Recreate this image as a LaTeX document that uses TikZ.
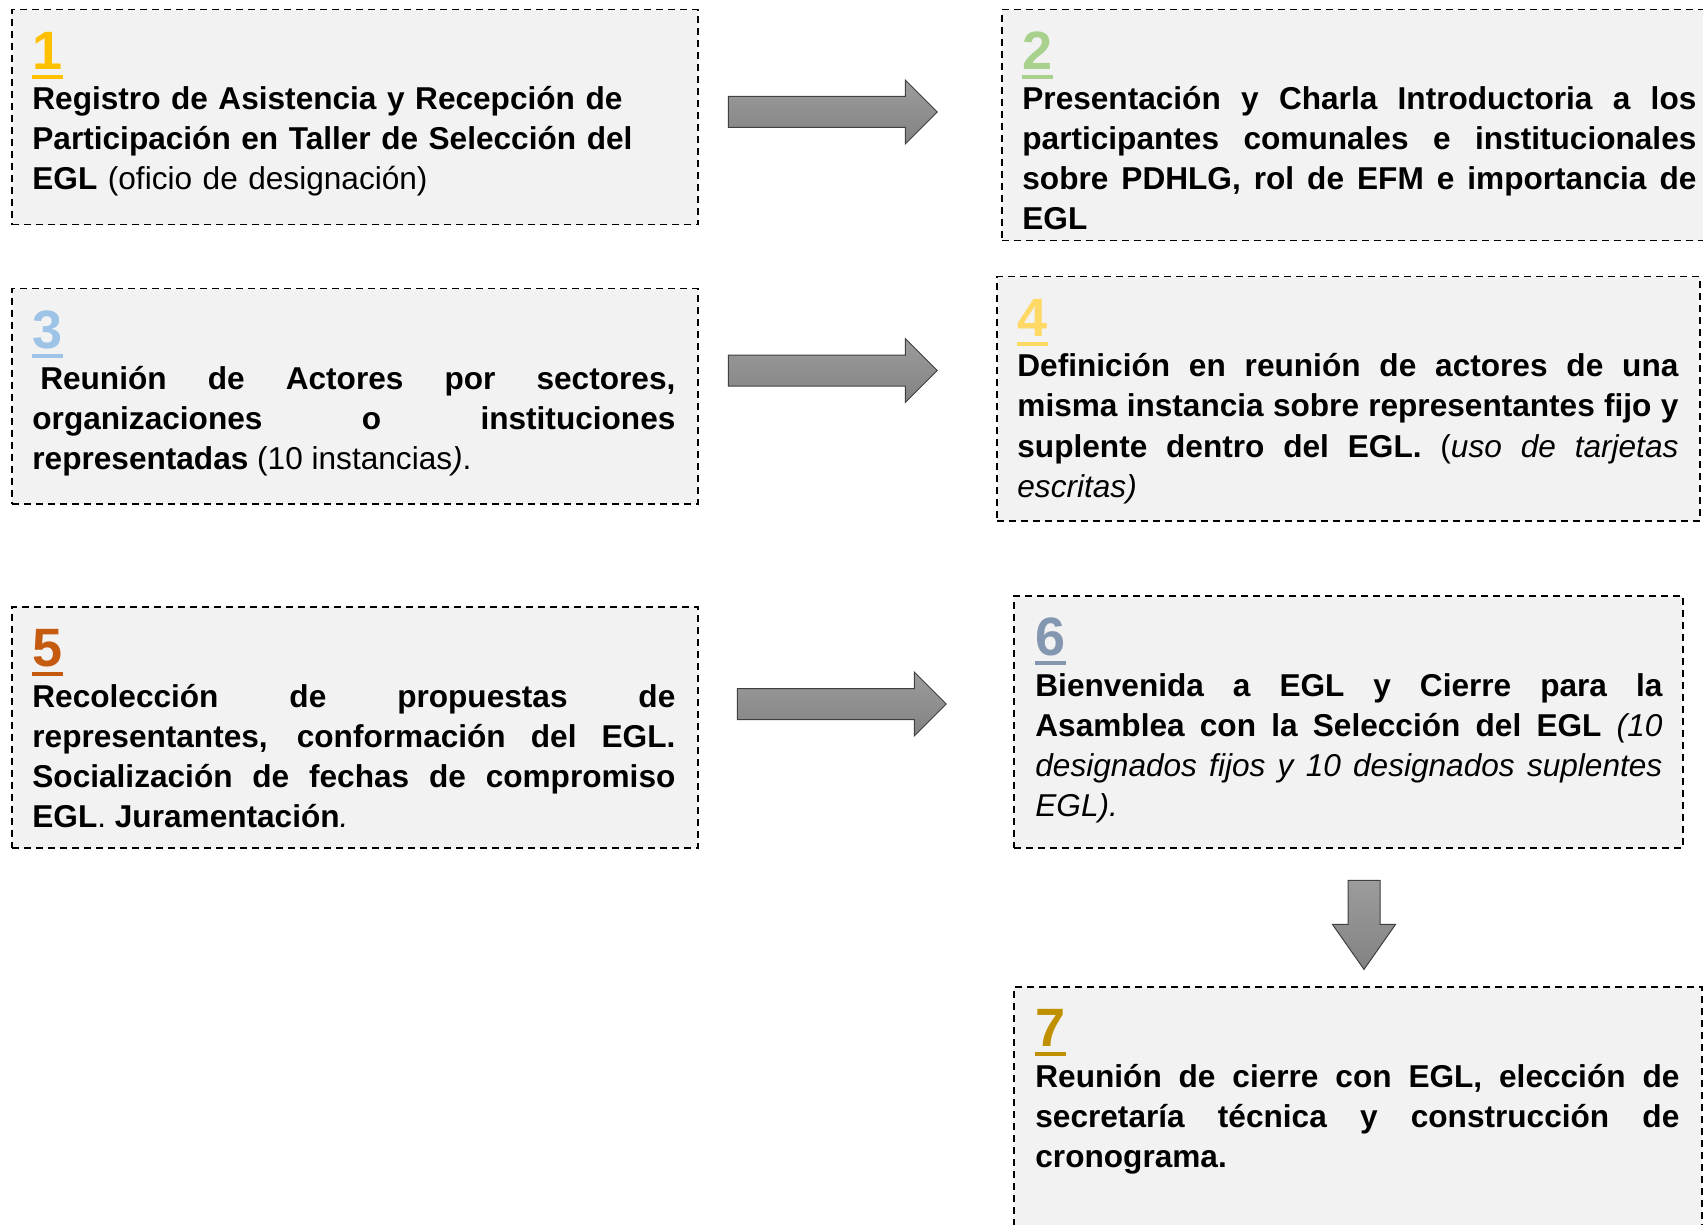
\documentclass[tikz,border=0pt]{standalone}
\usepackage{fontspec}
\setmainfont{Liberation Sans}
\usepackage{xcolor}
\usetikzlibrary{shapes.arrows,positioning,calc}

\definecolor{boxfill}{HTML}{F2F2F2}
\definecolor{numA}{HTML}{FFC000}
\definecolor{numB}{HTML}{A9D18E}
\definecolor{numC}{HTML}{9DC3E6}
\definecolor{numD}{HTML}{FFD966}
\definecolor{numE}{HTML}{C55A11}
\definecolor{numF}{HTML}{8497B0}
\definecolor{numG}{HTML}{BF9000}
\definecolor{arrtop}{HTML}{9C9C9C}
\definecolor{arrbot}{HTML}{828282}

\begin{document}
\begin{tikzpicture}[
  x=0.5pt, y=-0.5pt,
  box/.style={draw, dash pattern=on 3.5pt off 2.5pt, line width=0.75pt,
              fill=boxfill, anchor=north west, inner sep=0pt},
  num/.style={anchor=base west, inner sep=0pt, text=#1,
              font=\fontsize{27}{27}\selectfont\bfseries},
  txt/.style={anchor=base west, inner sep=0pt, align=justify,
              font={\fontsize{15.8}{20}\selectfont\tolerance=10000 \hyphenpenalty=10000 }},
  harrow/.style={single arrow, draw=black!75, line width=0.5pt,
                 top color=arrtop, bottom color=arrbot, inner sep=7.5pt,
                 single arrow head extend=8.25pt, minimum height=104.5pt},
  varrow/.style={harrow, shape border rotate=270, inner sep=7.75pt,
                 single arrow head extend=7.75pt, single arrow tip angle=70,
                 minimum height=44.5pt}
]
  \path[use as bounding box, fill=white] (0,0) rectangle (1703,1225);
  \clip (0,0) rectangle (1703,1225);

  \node[box, minimum width=343pt, minimum height=107.5pt] (b1) at (11,9) {};
  \node[box, minimum width=400pt, minimum height=115.5pt] (b2) at (1001,9) {};
  \node[box, minimum width=343pt, minimum height=107.5pt] (b3) at (11,288) {};
  \node[box, minimum width=351.5pt, minimum height=122pt] (b4) at (996,276) {};
  \node[box, minimum width=343pt, minimum height=120.5pt] (b5) at (11,606) {};
  \node[box, minimum width=334.5pt, minimum height=126pt] (b6) at (1013,595) {};
  \node[box, minimum width=344pt, minimum height=150pt] (b7) at (1013,986) {};

  \node[num=numA] (n1) at ([shift={(21,60.5)}]b1.north west) {1};
  \node[num=numB] (n2) at ([shift={(21,60.5)}]b2.north west) {2};
  \node[num=numC] (n3) at ([shift={(21,60.5)}]b3.north west) {3};
  \node[num=numD] (n4) at ([shift={(21,60.5)}]b4.north west) {4};
  \node[num=numE] (n5) at ([shift={(21,60.5)}]b5.north west) {5};
  \node[num=numF] (n6) at ([shift={(22,60.5)}]b6.north west) {6};
  \node[num=numG] (n7) at ([shift={(22,60.5)}]b7.north west) {7};
  \fill[numA] ([yshift=-2.75pt]n1.base west) rectangle ([yshift=-4.75pt]n1.base east);
  \fill[numB] ([yshift=-2.75pt]n2.base west) rectangle ([yshift=-4.75pt]n2.base east);
  \fill[numC] ([yshift=-2.75pt]n3.base west) rectangle ([yshift=-4.75pt]n3.base east);
  \fill[numD] ([yshift=-2.75pt]n4.base west) rectangle ([yshift=-4.75pt]n4.base east);
  \fill[numE] ([yshift=-2.75pt]n5.base west) rectangle ([yshift=-4.75pt]n5.base east);
  \fill[numF] ([yshift=-2.75pt]n6.base west) rectangle ([yshift=-4.75pt]n6.base east);
  \fill[numG] ([yshift=-2.75pt]n7.base west) rectangle ([yshift=-4.75pt]n7.base east);

  \node[txt, align=left, text width=321.5pt] (t1) at ([shift={(21,101)}]b1.north west)
    {\textbf{Registro de Asistencia y Recepción de\\ Participación en Taller de Selección del\\
     EGL} (oficio de designación)};
  \node[txt, text width=337pt] (t2) at ([shift={(21,101)}]b2.north west)
    {\textbf{Presentación y Charla Introductoria a los\linebreak
     participantes comunales e institucionales\linebreak
     sobre PDHLG, rol de EFM e importancia de\linebreak EGL}};
  \node[txt, text width=321.5pt] (t3) at ([shift={(21,101)}]b3.north west)
    {\textbf{\hspace*{0.25em}Reunión de Actores por sectores,\linebreak
     organizaciones o instituciones\linebreak
     representadas} (10 instancias\textit{)}.};
  \node[txt, text width=330.5pt] (t4) at ([shift={(21,101)}]b4.north west)
    {\textbf{Definición en reunión de actores de una\linebreak
     misma instancia sobre representantes fijo y\linebreak
     suplente dentro del EGL.} (\textit{uso de tarjetas\linebreak escritas)}};
  \node[txt, text width=321.5pt] (t5) at ([shift={(21,101)}]b5.north west)
    {\textbf{Recolección de propuestas de\linebreak
     representantes, conformación del EGL.\linebreak
     Socialización de fechas de compromiso\linebreak
     EGL}. \textbf{Juramentación}\textit{.}};
  \node[txt, text width=313.5pt] (t6) at ([shift={(22,101)}]b6.north west)
    {\textbf{Bienvenida a EGL y Cierre para la\linebreak
     Asamblea con la Selección del EGL} \textit{(10\linebreak
     designados fijos y 10 designados suplentes\linebreak EGL).}};
  \node[txt, text width=322pt] (t7) at ([shift={(22,101)}]b7.north west)
    {\textbf{Reunión de cierre con EGL, elección de\linebreak
     secretaría técnica y construcción de\linebreak cronograma.}};

  \node[harrow] (a12) at (825,112) {};
  \node[harrow] (a34) at (825,370.5) {};
  \node[harrow] (a56) at (834,704) {};
  \node[varrow] (a67) at (1364,913.5) {};
\end{tikzpicture}
\end{document}
